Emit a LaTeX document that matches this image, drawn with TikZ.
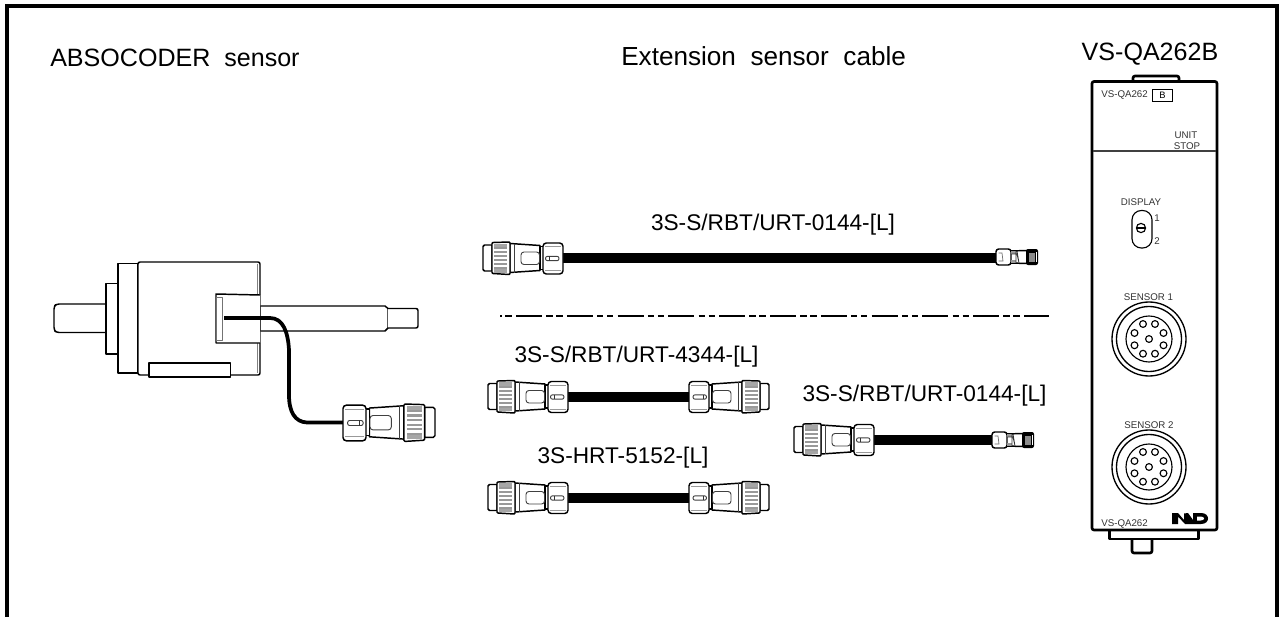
\documentclass[tikz,border=0pt]{standalone}
\usepackage{fontspec}
\setmainfont{Liberation Sans}
\tikzset{
  big/.style={font=\fontsize{18.8}{22}\selectfont,inner sep=0pt,text=black},
  bigger/.style={font=\fontsize{19.6}{22}\selectfont,inner sep=0pt,text=black},
  mid/.style={font=\fontsize{17}{20}\selectfont,inner sep=0pt,text=black},
  tiny/.style={font=\fontsize{7.3}{9}\selectfont,inner sep=0pt,text=black!80},
  ol/.style={draw=black,line width=1.1pt,line join=round,fill=white},
  thin ol/.style={draw=black!75,line width=0.7pt,line join=round,fill=white},
  heavy/.style={draw=black,line width=2pt,line join=round},
  conn/.pic={
    \path[ol] (-71,-13.5) -- (-78.5,-13.5) -- (-80,-12) -- (-80,11) -- (-78.5,12.5) -- (-71,12.5) -- cycle;
    \path[ol] (-53,-15) -- (-23,-13) -- (-23,12) -- (-53,14) -- cycle;
    \path[ol] (-23,-12) -- (-19,-12) -- (-19,11) -- (-23,11) -- cycle;
    \path[ol] (-70,-16) -- (-54,-16.5) -- (-53,-15.5) -- (-53,15) -- (-54,16) -- (-70,15) -- (-71,14) -- (-71,-15) -- cycle;
    \foreach \yy in {-11.5,-7.5,-3.5,0.5,4.5,8.5} {
      \fill[black!40] (-69,\yy) rectangle (-56,\yy+2);
    }
    \fill[black!35] (-69,-15) rectangle (-56,-11.5);
    \fill[black!35] (-69,10.5) rectangle (-56,14);
    \draw[thin ol,fill=none] (-49,-15) -- (-49,14);
    \path[thin ol,rounded corners=2.2] (-42,-6.5) rectangle (-23.5,6);
    \path[ol,rounded corners=2.5] (-20,-15.5) rectangle (0,15.5);
    \draw[black!40,line width=0.5pt] (-18,-12) -- (-2,-12) (-18,12) -- (-2,12);
    \path[thin ol,rounded corners=1.5] (-17.5,-2.2) rectangle (-4,2.2);
    \draw[black!80,line width=0.6pt] (-14,-2.2) -- (-14,2.2);
  },
  smallconn/.pic={
    \path[ol] (14,-6) -- (31,-6.5) -- (31,6.5) -- (14,6) -- cycle;
    \path[ol,rounded corners=2] (0,-8) rectangle (15,8);
    \draw[black!60,line width=0.5pt,fill=white] (2.5,-4) -- (6,-4) -- (7,4) -- (2.5,4);
    \fill[black!40] (15,-6) rectangle (20,-3);
    \fill[black!40] (15,3) rectangle (20,6);
    \draw[black!80,line width=0.6pt] (15,-3) -- (21,-3) -- (23,6) (21,-6) -- (23,6) (20,-6) -- (20,6);
    \fill[black,rounded corners=1.5] (30,-8) rectangle (42,8);
    \fill[black!45] (33,-4.5) rectangle (39,4.5);
    \fill[white] (40.2,-5) rectangle (40.9,5);
  },
  panelport/.pic={
    \draw[black,line width=1pt] (0,0) circle (37);
    \draw[black,line width=1pt] (0,0) circle (32.5);
    \draw[black,line width=0.85pt] (0,0) circle (23);
    \foreach \a/\b in {0/0,-6/-15,6/-15,-14.5/-6,14.5/-6,-14.5/6.3,14.5/6.3,-6/14.7,6/14.7} {
      \draw[black,line width=0.85pt] (\a,\b) circle (3.4);
    }
  }
}
\begin{document}
\begin{tikzpicture}[x=0.75pt,y=-0.75pt]
\useasboundingbox (0,0) rectangle (1283,617);
% frame
\draw[black,line width=3pt,line join=miter] (7,617) -- (7,6.5) -- (1277,6.5) -- (1277,617);

% headings
\node[big,anchor=base west] (hA) at (50,66.5) {ABSOCODER\ \ sensor};
\node[bigger,anchor=base west] (hB) at (621,66) {Extension\ \ sensor\ \ cable};
\node[big,anchor=base] (hC) at (1150,61) {VS-QA262B};

% encoder
\path[ol,rounded corners=2] (106,304) -- (56.5,304) -- (54,306.5) -- (54,330) -- (56.5,332.5) -- (106,332.5);
\path[ol] (106,283.5) rectangle (118,354);
\path[ol] (118,263.5) rectangle (138,373);
\path[ol] (385,306) -- (260,306) -- (260,331) -- (385,331) -- (388,328) -- (388,308.5) -- cycle;
\path[ol,rounded corners=1.5] (388,308.5) -- (418,308.5) -- (418,328) -- (388,328);
\path[ol,rounded corners=1.5] (138,262) -- (260,262) -- (260,375) -- (138,375) -- cycle;
\draw[black!50,line width=0.6pt] (257.5,264) -- (257.5,294) (257.5,343) -- (257.5,373);
\path[ol] (260,295) -- (216,294) -- (216,343) -- (260,343);
\path[thin ol,draw=black!55] (216.5,297) rectangle (222.5,340);
\path[ol] (149,363) rectangle (230.5,377);
\draw[black,line width=2.8pt,line cap=butt] (224,318) -- (270,318)
  .. controls (283,318) and (288,332) .. (289,350)
  -- (289,395) .. controls (289,412) and (295,422) .. (307,422.5) -- (343,422.5);
\pic[xscale=-1.15,yscale=1.15] at (343,423) {conn};

% cables
\fill[black] (562,253) rectangle (996,263);
\pic at (563,258.5) {conn};
\pic at (996,257) {smallconn};

\fill[black] (567,392) rectangle (690,402);
\pic at (568,397) {conn};
\pic[xscale=-1] at (689,397) {conn};

\fill[black] (567,493) rectangle (690,503);
\pic at (568,498) {conn};
\pic[xscale=-1] at (689,498) {conn};

\fill[black] (873,435) rectangle (992,445);
\pic at (874,440) {conn};
\pic at (992,440) {smallconn};

% separator
\draw[black,line width=0.8pt,dash pattern=on 19.5pt off 3.2pt on 4.7pt off 2.8pt on 4.7pt off 3.2pt,dash phase=26.1pt] (500,316) -- (1049,316);

% labels
\node[mid,anchor=base] (l1) at (773,230) {3S-S/RBT/URT-0144-[L]};
\node[mid,anchor=base] (l2) at (636.5,362) {3S-S/RBT/URT-4344-[L]};
\node[mid,anchor=base] (l3) at (924.5,401) {3S-S/RBT/URT-0144-[L]};
\node[mid,anchor=base] (l4) at (623,463) {3S-HRT-5152-[L]};

% module
\path[heavy,fill=white,rounded corners=1.5] (1133,82) -- (1133,76) -- (1179,76) -- (1179,82);
\path[heavy,fill=white,rounded corners=1.5] (1132,538) -- (1132,553) -- (1152,553) -- (1152,538);
\path[heavy,fill=white] (1109.5,530) -- (1109.5,539) -- (1198.5,539) -- (1198.5,530);
\path[heavy,fill=white,rounded corners=1.5] (1092,81.5) rectangle (1217,530);
\draw[black!75,line width=1.4pt] (1093,151) -- (1216,151);
\node[tiny,anchor=base west] (m1) at (1101,97.5) {VS-QA262};
\node[draw=black,line width=0.6pt,minimum width=14.5pt,minimum height=9pt,inner sep=0pt,font=\fontsize{7}{8}\selectfont] (m2) at (1162.5,95.5) {B};
\node[tiny,anchor=base] (m3) at (1186,138.5) {UNIT};
\node[tiny,anchor=base] (m4) at (1187,150) {STOP};
\node[tiny,anchor=base] (m5) at (1141,205) {DISPLAY};
\draw[black,line width=0.85pt,rounded corners=7] (1132,210.5) rectangle (1152,248);
\draw[black,line width=0.85pt] (1141,228) circle (4.6);
\draw[black,line width=0.85pt] (1136.4,228) -- (1145.6,228);
\node[tiny,anchor=base] (m6) at (1157,221) {1};
\node[tiny,anchor=base] (m7) at (1157,244) {2};
\node[tiny,anchor=base] (m8) at (1148.5,300.5) {SENSOR 1};
\node[tiny,anchor=base] (m9) at (1149,428.5) {SENSOR 2};
\pic at (1149,339) {panelport};
\pic at (1149,467) {panelport};
\node[tiny,anchor=base west] (m10) at (1101,526) {VS-QA262};
% maker logo
\fill[black] (1172,513) -- (1178,513) -- (1184,520) -- (1184,513.5) -- (1188,513) -- (1193,520) -- (1193,513) -- (1201,513)
  .. controls (1206,513) and (1208,516) .. (1208,518.5) .. controls (1208,521) and (1206,524) .. (1201,524)
  -- (1190,524) -- (1185,524) -- (1178,516.5) -- (1178,524) -- (1172,524) -- cycle;
\fill[white] (1197,516.5) -- (1200.5,516.5) .. controls (1203,516.5) and (1204,517.5) .. (1204,518.5)
  .. controls (1204,519.5) and (1203,520.5) .. (1200.5,520.5) -- (1197,520.5) -- cycle;
\end{tikzpicture}
\end{document}
